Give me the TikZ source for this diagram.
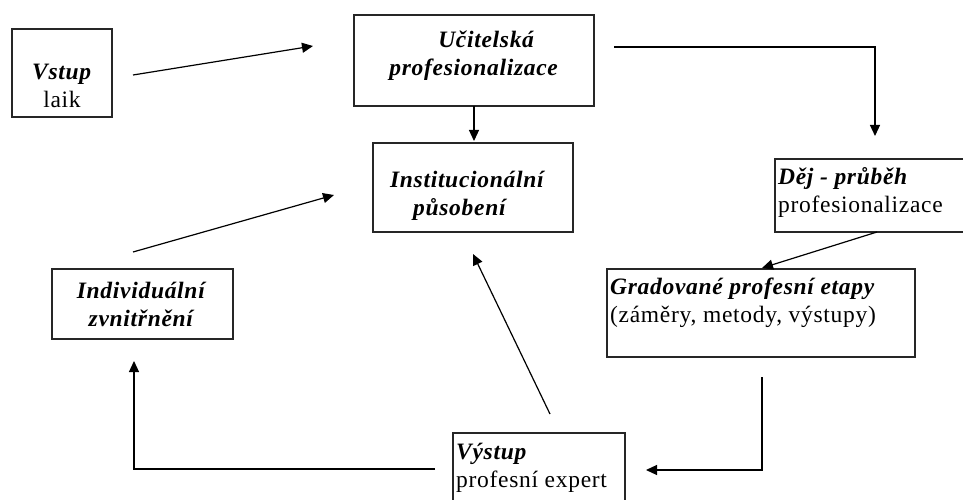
\documentclass[tikz,border=0pt]{standalone}
\usepackage{fontspec}
\setmainfont{Liberation Serif}[LetterSpace=3]
\usetikzlibrary{arrows.meta}
\begin{document}
\begin{tikzpicture}[x=1pt,y=-1pt,
  box/.style={draw=black!85, line width=1.4pt, inner sep=0pt},
  txt/.style={inner sep=0pt, font=\fontsize{23.5}{28}\selectfont, align=#1},
  txt/.default=center,
  conn/.style={line width=1.2pt, -{Triangle[length=11pt,width=10pt]}},
  plain/.style={line width=1.2pt}]
\useasboundingbox (0,0) rectangle (963,500);
\clip (0,0) rectangle (963,500);
\fill[white] (0,0) rectangle (963,500);
% boxes
\draw[box] (12,29) rectangle (112,117);
\node[txt] (vstupT) at (62,86) {\textbf{\textit{Vstup}}\\laik};

\draw[box] (354,15) rectangle (594,106);
\node[txt] (ucitT) at (474,56) {\hspace*{25pt}\textbf{\textit{Učitelská}}\\\textbf{\textit{profesionalizace}}};

\draw[box] (373,143) rectangle (573,232);
\node[txt] (instT) at (468,196) {\textbf{\textit{Institucionální}}\\\hspace*{-15pt}\textbf{\textit{působení}}};

\draw[box] (775,159) rectangle (975,232);
\node[txt=left, anchor=north west] (dejT) at (778,167) {\textbf{\textit{Děj - průběh}}\\profesionalizace};

\draw[box] (607,269) rectangle (915,357);
\node[txt=left, anchor=north west] (gradT) at (610,278) {\textbf{\textit{Gradované profesní etapy}}\\(záměry, metody, výstupy)};

\draw[box] (453,433) rectangle (625,520);
\node[txt=left, anchor=north west] (vystT) at (456,443) {\textbf{\textit{Výstup}}\\profesní expert};

\draw[box] (52,269) rectangle (233,339);
\node[txt] (indivT) at (142,304) {\textbf{\textit{Individuální}}\\\textbf{\textit{zvnitřnění}}};

% connector endpoints
\coordinate (a1s) at (133,75);   \coordinate (a1e) at (313,46);
\coordinate (a2s) at (474,106);  \coordinate (a2e) at (474,141);
\coordinate (a3s) at (614,47);   \coordinate (a3b) at (875,47); \coordinate (a3e) at (875,136);
\coordinate (a4s) at (877,232);  \coordinate (a4e) at (762,268);
\coordinate (a5s) at (762,377);  \coordinate (a5b) at (762,470); \coordinate (a5e) at (646,470);
\coordinate (a6s) at (550,414);  \coordinate (a6e) at (473,254);
\coordinate (a7s) at (435,469);  \coordinate (a7b) at (134,469); \coordinate (a7e) at (134,361);
\coordinate (a8s) at (133,252);  \coordinate (a8e) at (334,195);

\draw[conn] (a1s) -- (a1e);
\draw[conn] (a2s) -- (a2e);
\draw[conn] (a3s) -- (a3b) -- (a3e);
\draw[conn] (a4s) -- (a4e);
\draw[conn] (a5s) -- (a5b) -- (a5e);
\draw[conn] (a6s) -- (a6e);
\draw[conn] (a7s) -- (a7b) -- (a7e);
\draw[conn] (a8s) -- (a8e);
\end{tikzpicture}
\end{document}
